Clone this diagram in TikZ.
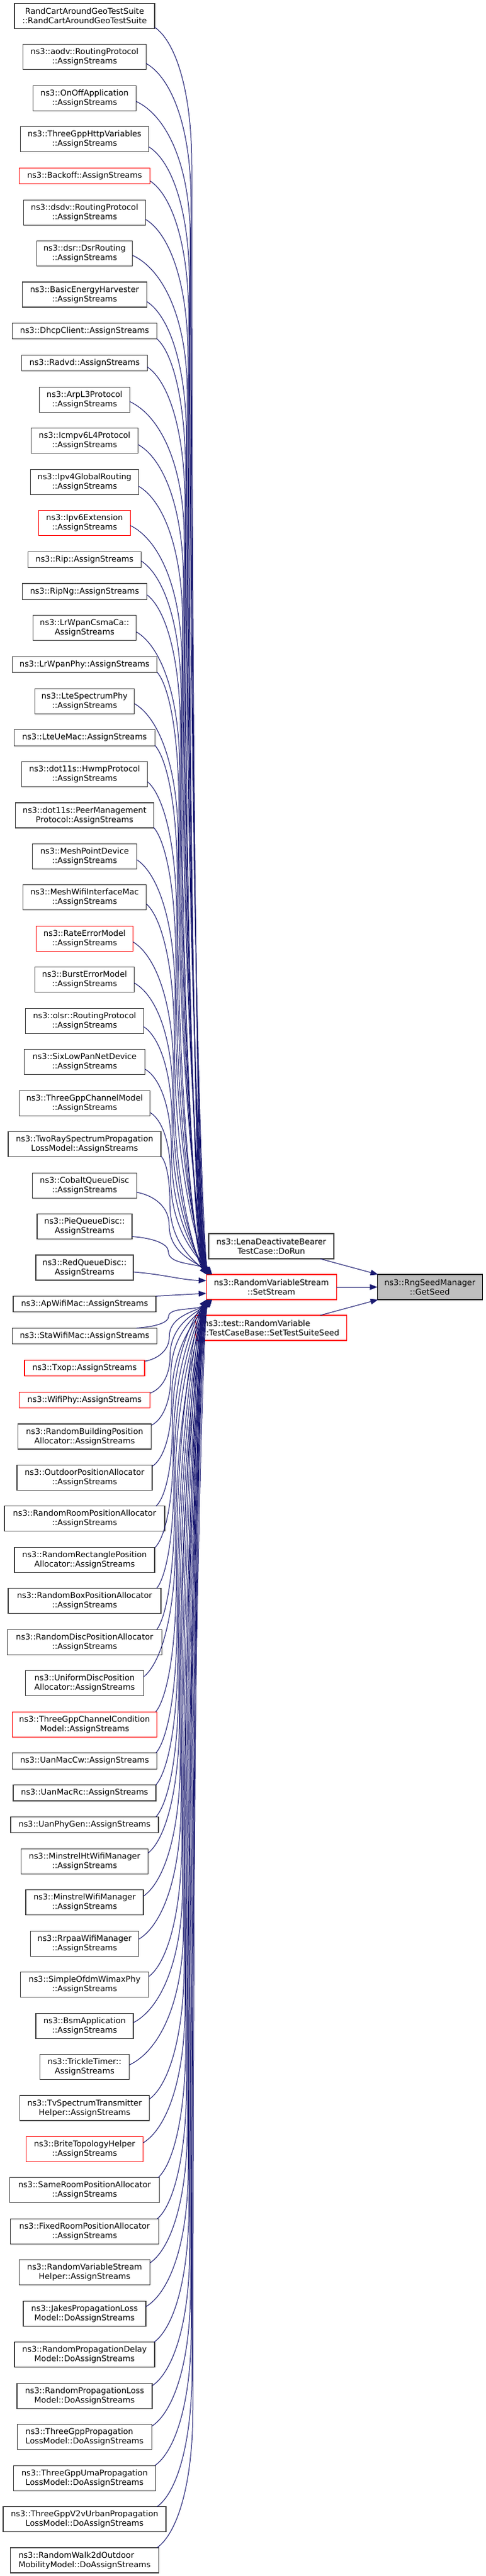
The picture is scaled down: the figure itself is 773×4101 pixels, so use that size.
\documentclass[tikz,border=0pt]{standalone}
\usepackage{fontspec}
\setmainfont{DejaVu Sans}
\usetikzlibrary{positioning,calc,arrows.meta}
\definecolor{gry}{HTML}{404040}
\definecolor{midb}{HTML}{191970}
\definecolor{gfill}{HTML}{BFBFBF}
\tikzset{
  bx/.style={draw=gry, line width=1.1pt, fill=white, inner xsep=1pt, inner ysep=2pt, outer sep=0pt,
    align=center, font=\fontsize{12.8pt}{15pt}\selectfont, minimum height=40pt},
  onel/.style={minimum height=25.45pt},
  redb/.style={draw=red},
  edge/.style={draw=midb, line width=1pt, -{Triangle[length=12pt,width=9pt]}},
}
\newcommand\upedge[4]{%
 \draw[edge] let \p1=($(#1.east)+(0pt,-#2pt)$), \p2=($(ss.north west)+(#4pt,0pt)$),
   \n1={min(220pt,0.4*(\y1-\y2))}, \n2={#3pt} in
 (\p1) .. controls ({\x1+0.55*(\n2-\x1)},{\y1-0.1*\n1}) and ({\n2},{\y1-0.45*\n1}) .. ({\n2},{\y1-\n1})
 .. controls ({\n2},{\y1-\n1-0.6*(\y1-\n1-\y2)}) and ({\x2-14pt},{\y2+18pt}) .. (\p2);}
\newcommand\loedge[5]{%
 \draw[edge] let \p1=($(#1.north east)+(-#2pt,-#3pt)$), \p2=($(ss.south west)+(#5pt,0pt)$),
   \n1={min(220pt,0.4*(\y2-\y1))}, \n2={#4pt} in
 (\p1) .. controls ({\x1+0.55*(\n2-\x1)},{\y1+0.1*\n1}) and ({\n2},{\y1+0.45*\n1}) .. ({\n2},{\y1+\n1})
 .. controls ({\n2},{\y1+\n1+0.6*(\y2-\y1-\n1)}) and ({\x2-14pt},{\y2-18pt}) .. (\p2);}
\begin{document}
\begin{tikzpicture}[x=1pt,y=-1pt]
\fill[white] (0,0) rectangle (773,4101);
\useasboundingbox (0,0) rectangle (773,4101);
% left column
\node[bx, anchor=north, minimum width=223pt] (n1) at (134.5,5.4) {RandCartAroundGeoTestSuite\\::RandCartAroundGeoTestSuite};
\node[bx, below=25.45pt of n1, minimum width=195.3pt] (n2) {ns3::aodv::RoutingProtocol\\::AssignStreams};
\node[bx, below=25.45pt of n2, minimum width=163.6pt] (n3) {ns3::OnOffApplication\\::AssignStreams};
\node[bx, below=25.45pt of n3, minimum width=204.4pt] (n4) {ns3::ThreeGppHttpVariables\\::AssignStreams};
\node[bx, onel, redb, below=25.45pt of n4, minimum width=208pt] (n5) {ns3::Backoff::AssignStreams};
\node[bx, below=25.45pt of n5, minimum width=193.6pt] (n6) {ns3::dsdv::RoutingProtocol\\::AssignStreams};
\node[bx, below=25.45pt of n6, minimum width=152.7pt] (n7) {ns3::dsr::DsrRouting\\::AssignStreams};
\node[bx, below=25.45pt of n7, minimum width=197.6pt] (n8) {ns3::BasicEnergyHarvester\\::AssignStreams};
\node[bx, onel, below=25.45pt of n8, minimum width=229.6pt] (n9) {ns3::DhcpClient::AssignStreams};
\node[bx, onel, below=25.45pt of n9, minimum width=199.3pt] (n10) {ns3::Radvd::AssignStreams};
\node[bx, below=25.45pt of n10, minimum width=143.3pt] (n11) {ns3::ArpL3Protocol\\::AssignStreams};
\node[bx, below=25.45pt of n11, minimum width=170pt] (n12) {ns3::Icmpv6L4Protocol\\::AssignStreams};
\node[bx, below=25.45pt of n12, minimum width=172pt] (n13) {ns3::Ipv4GlobalRouting\\::AssignStreams};
\node[bx, redb, below=25.45pt of n13, minimum width=145.6pt] (n14) {ns3::Ipv6Extension\\::AssignStreams};
\node[bx, onel, below=25.45pt of n14, minimum width=179.3pt] (n15) {ns3::Rip::AssignStreams};
\node[bx, onel, below=25.45pt of n15, minimum width=198pt] (n16) {ns3::RipNg::AssignStreams};
\node[bx, below=25.45pt of n16, minimum width=164.4pt] (n17) {ns3::LrWpanCsmaCa::\\AssignStreams};
\node[bx, onel, below=25.45pt of n17, minimum width=230.7pt] (n18) {ns3::LrWpanPhy::AssignStreams};
\node[bx, below=25.45pt of n18, minimum width=158.7pt] (n19) {ns3::LteSpectrumPhy\\::AssignStreams};
\node[bx, onel, below=25.45pt of n19, minimum width=223.3pt] (n20) {ns3::LteUeMac::AssignStreams};
\node[bx, below=25.45pt of n20, minimum width=200.4pt] (n21) {ns3::dot11s::HwmpProtocol\\::AssignStreams};
\node[bx, below=25.45pt of n21, minimum width=219.3pt] (n22) {ns3::dot11s::PeerManagement\\Protocol::AssignStreams};
\node[bx, below=25.45pt of n22, minimum width=165.6pt] (n23) {ns3::MeshPointDevice\\::AssignStreams};
\node[bx, below=25.45pt of n23, minimum width=196.4pt] (n24) {ns3::MeshWifiInterfaceMac\\::AssignStreams};
\node[bx, redb, below=25.45pt of n24, minimum width=153.6pt] (n25) {ns3::RateErrorModel\\::AssignStreams};
\node[bx, below=25.45pt of n25, minimum width=157.6pt] (n26) {ns3::BurstErrorModel\\::AssignStreams};
\node[bx, below=25.45pt of n26, minimum width=187.3pt] (n27) {ns3::olsr::RoutingProtocol\\::AssignStreams};
\node[bx, below=25.45pt of n27, minimum width=191.3pt] (n28) {ns3::SixLowPanNetDevice\\::AssignStreams};
\node[bx, below=25.45pt of n28, minimum width=208.4pt] (n29) {ns3::ThreeGppChannelModel\\::AssignStreams};
\node[bx, below=25.45pt of n29, minimum width=243pt] (n30) {ns3::TwoRaySpectrumPropagation\\LossModel::AssignStreams};
\node[bx, below=25.45pt of n30, minimum width=165.6pt] (n31) {ns3::CobaltQueueDisc\\::AssignStreams};
\node[bx, below=25.45pt of n31, minimum width=151pt] (n32) {ns3::PieQueueDisc::\\AssignStreams};
\node[bx, below=25.45pt of n32, minimum width=155pt] (n33) {ns3::RedQueueDisc::\\AssignStreams};
\node[bx, onel, below=25.45pt of n33, minimum width=227pt] (n34) {ns3::ApWifiMac::AssignStreams};
\node[bx, onel, below=25.45pt of n34, minimum width=230.7pt] (n35) {ns3::StaWifiMac::AssignStreams};
\node[bx, onel, redb, below=25.45pt of n35, minimum width=191pt] (n36) {ns3::Txop::AssignStreams};
\node[bx, onel, redb, below=25.45pt of n36, minimum width=207.3pt] (n37) {ns3::WifiPhy::AssignStreams};
\node[bx, below=25.45pt of n37, minimum width=212.4pt] (n38) {ns3::RandomBuildingPosition\\Allocator::AssignStreams};
\node[bx, below=25.45pt of n38, minimum width=215pt] (n39) {ns3::OutdoorPositionAllocator\\::AssignStreams};
\node[bx, below=25.45pt of n39, minimum width=255pt] (n40) {ns3::RandomRoomPositionAllocator\\::AssignStreams};
\node[bx, below=25.45pt of n40, minimum width=223pt] (n41) {ns3::RandomRectanglePosition\\Allocator::AssignStreams};
\node[bx, below=25.45pt of n41, minimum width=243pt] (n42) {ns3::RandomBoxPositionAllocator\\::AssignStreams};
\node[bx, below=25.45pt of n42, minimum width=245.6pt] (n43) {ns3::RandomDiscPositionAllocator\\::AssignStreams};
\node[bx, below=25.45pt of n43, minimum width=187.3pt] (n44) {ns3::UniformDiscPosition\\Allocator::AssignStreams};
\node[bx, redb, below=25.45pt of n44, minimum width=230.4pt] (n45) {ns3::ThreeGppChannelCondition\\Model::AssignStreams};
\node[bx, onel, below=25.45pt of n45, minimum width=229.3pt] (n46) {ns3::UanMacCw::AssignStreams};
\node[bx, onel, below=25.45pt of n46, minimum width=227pt] (n47) {ns3::UanMacRc::AssignStreams};
\node[bx, onel, below=25.45pt of n47, minimum width=235pt] (n48) {ns3::UanPhyGen::AssignStreams};
\node[bx, below=25.45pt of n48, minimum width=201.6pt] (n49) {ns3::MinstrelHtWifiManager\\::AssignStreams};
\node[bx, below=25.45pt of n49, minimum width=187pt] (n50) {ns3::MinstrelWifiManager\\::AssignStreams};
\node[bx, below=25.45pt of n50, minimum width=172.4pt] (n51) {ns3::RrpaaWifiManager\\::AssignStreams};
\node[bx, below=25.45pt of n51, minimum width=204.4pt] (n52) {ns3::SimpleOfdmWimaxPhy\\::AssignStreams};
\node[bx, below=25.45pt of n52, minimum width=155pt] (n53) {ns3::BsmApplication\\::AssignStreams};
\node[bx, below=25.45pt of n53, minimum width=141.6pt] (n54) {ns3::TrickleTimer::\\AssignStreams};
\node[bx, below=25.45pt of n54, minimum width=205.6pt] (n55) {ns3::TvSpectrumTransmitter\\Helper::AssignStreams};
\node[bx, redb, below=25.45pt of n55, minimum width=186pt] (n56) {ns3::BriteTopologyHelper\\::AssignStreams};
\node[bx, below=25.45pt of n56, minimum width=237.6pt] (n57) {ns3::SameRoomPositionAllocator\\::AssignStreams};
\node[bx, below=25.45pt of n57, minimum width=235.3pt] (n58) {ns3::FixedRoomPositionAllocator\\::AssignStreams};
\node[bx, below=25.45pt of n58, minimum width=207.3pt] (n59) {ns3::RandomVariableStream\\Helper::AssignStreams};
\node[bx, below=25.45pt of n59, minimum width=195pt] (n60) {ns3::JakesPropagationLoss\\Model::DoAssignStreams};
\node[bx, below=25.45pt of n60, minimum width=223pt] (n61) {ns3::RandomPropagationDelay\\Model::DoAssignStreams};
\node[bx, below=25.45pt of n61, minimum width=215pt] (n62) {ns3::RandomPropagationLoss\\Model::DoAssignStreams};
\node[bx, align=left, below=25.45pt of n62, minimum width=213.6pt] (n63) {ns3::ThreeGppPropagation\\LossModel::DoAssignStreams};
\node[bx, below=25.45pt of n63, minimum width=225.6pt] (n64) {ns3::ThreeGppUmaPropagation\\LossModel::DoAssignStreams};
\node[bx, below=25.45pt of n64, minimum width=259pt] (n65) {ns3::ThreeGppV2vUrbanPropagation\\LossModel::DoAssignStreams};
\node[bx, align=left, below=25.45pt of n65, minimum width=236.4pt] (n66) {ns3::RandomWalk2dOutdoor\\MobilityModel::DoAssignStreams};
% right part
\node[bx, minimum width=199pt] (lena) at (431.5,1984) {ns3::LenaDeactivateBearer\\TestCase::DoRun};
\node[bx, redb, minimum width=207.3pt] (ss) at (431.7,2049) {ns3::RandomVariableStream\\::SetStream};
\node[bx, draw=black, fill=gfill, minimum width=166.7pt] (rng) at (683.7,2049) {ns3::RngSeedManager\\::GetSeed};
\node[bx, redb, align=left, minimum width=240pt] (sts) at (431.7,2114) {ns3::test::RandomVariable\\::TestCaseBase::SetTestSuiteSeed};
% edges
\foreach \i/\dy in {1/18,2/10,3/5,4/12,5/8,6/11,7/3,8/11,9/12,10/6,11/3,12/6,13/7,14/4,15/2,16/5,17/6,18/12,19/4,20/12,21/12,22/19,23/5,24/10,25/5,26/5,27/9,28/11,29/15,30/19,31/11,32/16}{
  \pgfmathsetmacro\xb{305-(\i-1)*1.2}
  \pgfmathsetmacro\ex{mod(\i,5)*2+1}
  \upedge{n\i}{\dy}{\xb}{\ex}
}
\foreach \i/\dx/\dy in {35/33/0,36/0/2,37/0/2,38/0/2,39/0/2,40/14/0,41/0/1,42/7/0,43/8/0,44/0/10,45/2/0,46/1/0,47/0/0,48/4/0,49/0/7,50/0/10,51/0/13,52/0/7,53/0/15,54/0/17,55/0/6,56/0/10,57/2/0,58/2/0,59/0/5,60/0/9,61/1/0,62/0/4,63/0/3,64/1/0,65/14/0,66/3/0}{
  \pgfmathsetmacro\xb{268+(\i-35)*1.25}
  \pgfmathsetmacro\ex{mod(\i,5)*2+1}
  \loedge{n\i}{\dx}{\dy}{\xb}{\ex}
}
\draw[edge] ($(n33.east)+(0pt,-7pt)$) .. controls +(50pt,-4pt) and +(-40pt,1pt) .. ($(ss.north west)+(0pt,-9.7pt)$);
\draw[edge] (n34.north east) -- ($(ss.west)+(0pt,-10pt)$);
\draw[edge] ($(lena.south west)+(177.3pt,0pt)$) -- ($(rng.north west)+(1pt,0pt)$);
\draw[edge] (ss.east) -- (rng.west);
\draw[edge] ($(sts.north west)+(197.6pt,0pt)$) -- ($(rng.south west)+(1pt,0pt)$);
\end{tikzpicture}
\end{document}
